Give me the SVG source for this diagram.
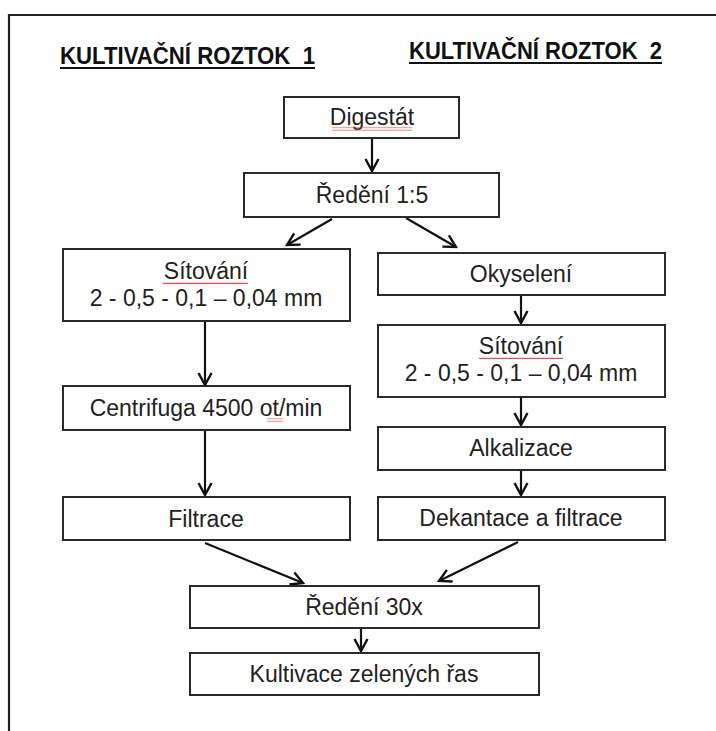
<svg xmlns="http://www.w3.org/2000/svg" width="716" height="731" viewBox="0 0 716 731">
  <style>
    .box { fill: #ffffff; stroke: #2a2a2a; stroke-width: 2; }
    .lbl { font-family: "Liberation Sans", Arial, sans-serif; font-size: 23px; fill: #222222; text-anchor: middle; }
    .title { font-family: "Liberation Sans", Arial, sans-serif; font-size: 23px; font-weight: bold; fill: #111111; }
    .uline { stroke: #111111; stroke-width: 2; }
    .conn { stroke: #111111; stroke-width: 2.2; fill: none; marker-end: url(#arrow); }
    .squig { fill: url(#wave); }
  </style>
  <defs>
    <marker id="arrow" viewBox="0 0 16 16" refX="14" refY="8" markerWidth="16" markerHeight="16" markerUnits="userSpaceOnUse" orient="auto">
      <path d="M2,1.5 L14,8 L2,14.5" fill="none" stroke="#111111" stroke-width="2.4" stroke-linejoin="miter"/>
    </marker>
    <pattern id="wave" width="4" height="3" patternUnits="userSpaceOnUse">
      <path d="M0,2.2 L1,0.8 L2,2.2 L3,0.8 L4,2.2" fill="none" stroke="#e23a3a" stroke-width="0.9"/>
    </pattern>
  </defs>

  <rect x="0" y="0" width="716" height="731" fill="#ffffff"/>
  <path id="frame" d="M9,731 V15 H716" fill="none" stroke="#222222" stroke-width="2.2"/>

  <g id="title1">
    <text class="title" x="60" y="64" textLength="255" lengthAdjust="spacingAndGlyphs" xml:space="preserve">KULTIVAČNÍ ROZTOK  1</text>
    <line class="uline" x1="60" y1="68" x2="315" y2="68"/>
  </g>
  <g id="title2">
    <text class="title" x="409" y="59" textLength="253" lengthAdjust="spacingAndGlyphs" xml:space="preserve">KULTIVAČNÍ ROZTOK  2</text>
    <line class="uline" x1="409" y1="63" x2="662" y2="63"/>
  </g>

  <g id="connectors">
    <line class="conn" x1="372" y1="139" x2="372" y2="171"/>
    <line class="conn" x1="332" y1="219" x2="287" y2="245"/>
    <line class="conn" x1="406" y1="218" x2="456" y2="247"/>
    <line class="conn" x1="205" y1="322" x2="205" y2="385"/>
    <line class="conn" x1="205" y1="431" x2="205" y2="495"/>
    <line class="conn" x1="521" y1="296" x2="521" y2="323"/>
    <line class="conn" x1="521" y1="398" x2="521" y2="425"/>
    <line class="conn" x1="521" y1="471" x2="521" y2="495"/>
    <line class="conn" x1="205" y1="543" x2="303" y2="583"/>
    <line class="conn" x1="518" y1="542" x2="439" y2="581"/>
    <line class="conn" x1="361" y1="629" x2="361" y2="651"/>
  </g>

  <g id="digestat">
    <rect class="box" x="284" y="97" width="175" height="41"/>
    <text class="lbl" x="372" y="125">Digestát</text>
    <rect class="squig" x="332" y="127.5" width="80" height="3"/>
  </g>
  <g id="redeni15">
    <rect class="box" x="244" y="173" width="255" height="44"/>
    <text class="lbl" x="372" y="203">Ředění 1:5</text>
  </g>
  <g id="sitovani1">
    <rect class="box" x="63" y="249" width="287" height="72"/>
    <text class="lbl" x="206" y="279">Sítování</text>
    <rect class="squig" x="163" y="281.5" width="85" height="3"/>
    <text class="lbl" x="206" y="306">2 - 0,5 - 0,1 – 0,04 mm</text>
  </g>
  <g id="centrifuga">
    <rect class="box" x="63" y="386" width="287" height="44"/>
    <text class="lbl" x="206" y="416">Centrifuga 4500 ot/min</text>
    <rect class="squig" x="267" y="418.5" width="16" height="3"/>
  </g>
  <g id="filtrace">
    <rect class="box" x="63" y="497" width="287" height="43"/>
    <text class="lbl" x="206" y="527">Filtrace</text>
  </g>
  <g id="okyseleni">
    <rect class="box" x="378" y="253" width="287" height="42"/>
    <text class="lbl" x="521" y="282">Okyselení</text>
  </g>
  <g id="sitovani2">
    <rect class="box" x="378" y="325" width="287" height="72"/>
    <text class="lbl" x="521" y="354">Sítování</text>
    <rect class="squig" x="479" y="356.5" width="84" height="3"/>
    <text class="lbl" x="521" y="381">2 - 0,5 - 0,1 – 0,04 mm</text>
  </g>
  <g id="alkalizace">
    <rect class="box" x="378" y="427" width="287" height="43"/>
    <text class="lbl" x="521" y="456">Alkalizace</text>
  </g>
  <g id="dekantace">
    <rect class="box" x="378" y="497" width="287" height="43"/>
    <text class="lbl" x="521" y="526">Dekantace a filtrace</text>
  </g>
  <g id="redeni30">
    <rect class="box" x="190" y="586" width="349" height="42"/>
    <text class="lbl" x="364" y="615">Ředění 30x</text>
  </g>
  <g id="kultivace">
    <rect class="box" x="190" y="653" width="349" height="42"/>
    <text class="lbl" x="364" y="682">Kultivace zelených řas</text>
  </g>
</svg>
